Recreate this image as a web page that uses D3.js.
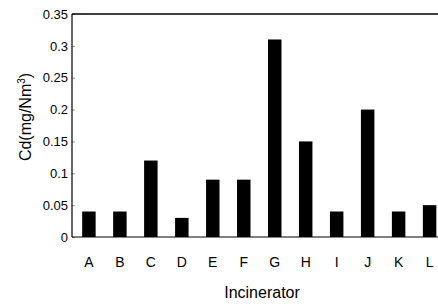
<!DOCTYPE html>
<html>
<head>
<meta charset="utf-8">
<script src="https://cdn.jsdelivr.net/npm/d3@7"></script>
<style>
  body { margin: 0; background: #fff; }
  text { font-family: "Liberation Sans", Arial, sans-serif; fill: #000; }
</style>
</head>
<body>
<script>
// incinerator labels and Cd concentrations (mg/Nm3)
let incinerators = ["A", "B", "C", "D", "E", "F", "G", "H", "I", "J", "K", "L"];
let cdValues = [0.04, 0.04, 0.12, 0.03, 0.09, 0.09, 0.31, 0.15, 0.04, 0.20, 0.04, 0.05];
let yTicks = [0, 0.05, 0.1, 0.15, 0.2, 0.25, 0.3, 0.35];
let yTickLabels = ["0", "0.05", "0.1", "0.15", "0.2", "0.25", "0.3", "0.35"];

let width = 438;
let height = 304;
// plot frame runs past the right edge of the picture
let margin = {top: 14, left: 72, bottom: 67};
let plotRight = 445;

let svg = d3.select("body").append("svg")
  .attr("width", width)
  .attr("height", height);

let x = d3.scaleBand()
  .domain(incinerators)
  .range([margin.left + 1.5, plotRight])
  .paddingInner(0.565)
  .paddingOuter(0.28);

let y = d3.scaleLinear()
  .domain([0, 0.35])
  .range([height - margin.bottom, margin.top]);

// bars
svg.selectAll(".bar")
  .data(cdValues)
  .enter().append("rect")
    .attr("class", "bar")
    .attr("x", (d, i) => x(incinerators[i]))
    .attr("y", d => y(d))
    .attr("width", x.bandwidth())
    .attr("height", d => y(0) - y(d))
    .style("fill", "#000");

// left axis with inward ticks
let yAxis = svg.append("g")
  .attr("transform", "translate(" + margin.left + ",0)")
  .call(d3.axisLeft(y).tickValues(yTicks).tickSize(-3).tickPadding(4)
    .tickFormat((d, i) => yTickLabels[i]));
yAxis.select(".domain").remove();
yAxis.selectAll(".tick line").attr("stroke", "#999");
yAxis.selectAll(".tick text")
  .style("font-size", "13px")
  .style("font-family", "'Liberation Sans', Arial, sans-serif")
  .attr("fill", "#000");

// frame
svg.append("line")
  .attr("x1", margin.left).attr("x2", margin.left)
  .attr("y1", y(0.35)).attr("y2", y(0))
  .attr("stroke", "#000").attr("stroke-width", 1.2);
svg.append("line")
  .attr("x1", margin.left).attr("x2", plotRight)
  .attr("y1", y(0)).attr("y2", y(0))
  .attr("stroke", "#000").attr("stroke-width", 1.2);
svg.append("line")
  .attr("x1", margin.left).attr("x2", plotRight)
  .attr("y1", y(0.35)).attr("y2", y(0.35))
  .attr("stroke", "#000").attr("stroke-width", 1.5);

// category labels
let xAxis = svg.append("g")
  .attr("transform", "translate(0," + y(0) + ")")
  .call(d3.axisBottom(x).tickSize(0).tickPadding(20));
xAxis.select(".domain").remove();
xAxis.selectAll(".tick text")
  .style("font-size", "14px")
  .style("font-family", "'Liberation Sans', Arial, sans-serif")
  .attr("fill", "#000");

// axis titles
svg.append("text")
  .attr("x", 262)
  .attr("y", 298)
  .attr("text-anchor", "middle")
  .style("font-size", "16px")
  .text("Incinerator");

let yTitle = svg.append("text")
  .attr("transform", "translate(31,117) rotate(-90)")
  .attr("text-anchor", "middle")
  .style("font-size", "16px");
yTitle.append("tspan").text("Cd(mg/Nm");
yTitle.append("tspan").attr("dy", -6).style("font-size", "10px").text("3");
yTitle.append("tspan").attr("dy", 6).text(")");
</script>
</body>
</html>
